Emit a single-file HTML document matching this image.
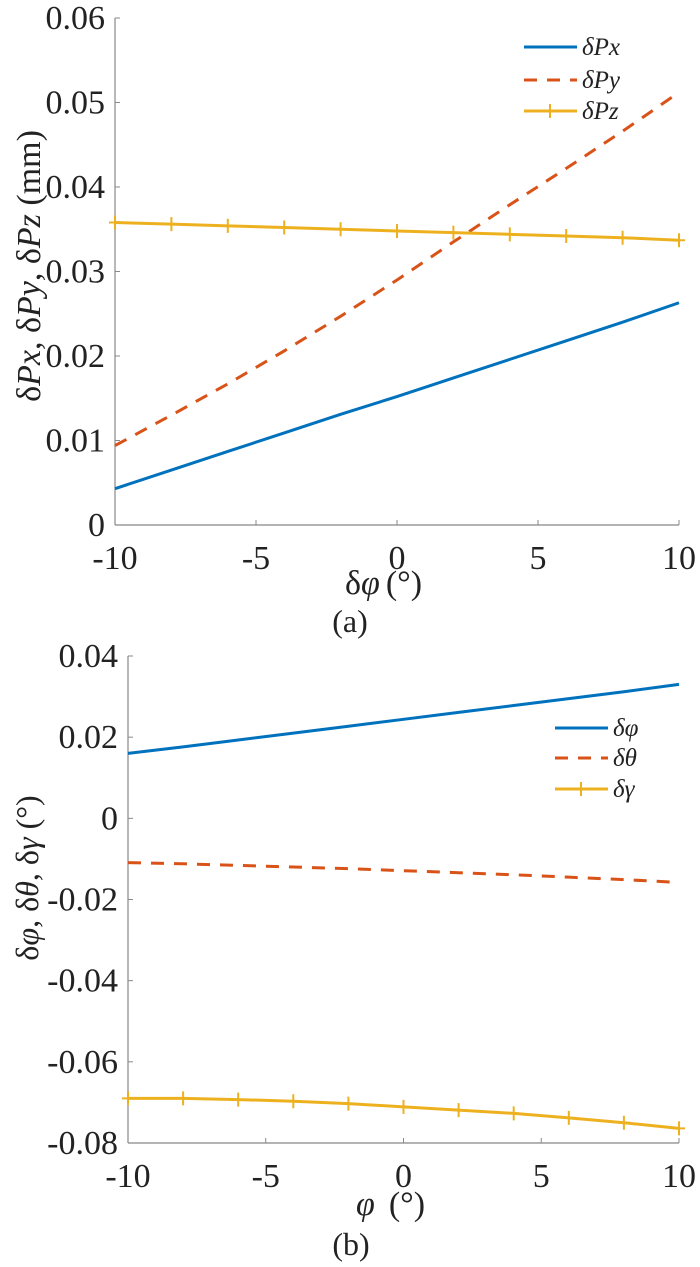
<!DOCTYPE html>
<html><head><meta charset="utf-8"><style>
body{margin:0;background:#fff}
svg{display:block}
svg text{font-family:"Liberation Serif","Noto Serif CJK SC","DejaVu Serif","Times New Roman",serif !important}
</style></head><body>
<svg id="fig" width="700" height="1267" viewBox="0 0 700 1267" xmlns="http://www.w3.org/2000/svg" style="position:absolute;left:0;top:0"></svg>
<script>
const xCats=[-10,-8,-6,-4,-2,0,2,4,6,8,10];
const pxVals=[0.0043,0.0065,0.0087,0.0109,0.0131,0.0152,0.0174,0.0196,0.0218,0.0240,0.0263];
const pyVals=[0.0094,0.0130,0.0167,0.0206,0.0247,0.0290,0.0335,0.0379,0.0422,0.0466,0.0512];
const pzVals=[0.0358,0.0356,0.0354,0.0352,0.0350,0.0348,0.0346,0.0344,0.0342,0.0340,0.0337];
const phiVals=[0.0160,0.0176,0.0193,0.0210,0.0227,0.0244,0.0261,0.0278,0.0295,0.0312,0.0330];
const thetaVals=[-0.0109,-0.0112,-0.0116,-0.0120,-0.0124,-0.0129,-0.0134,-0.0139,-0.0145,-0.0151,-0.0158];
const gammaVals=[-0.0690,-0.0690,-0.0693,-0.0697,-0.0703,-0.0711,-0.0719,-0.0727,-0.0738,-0.0750,-0.0764];
const xTicks=[-10,-5,0,5,10];
const xTickLabels=["-10","-5","0","5","10"];
const yTicksA=[0,0.01,0.02,0.03,0.04,0.05,0.06];
const yTickLabelsA=["0","0.01","0.02","0.03","0.04","0.05","0.06"];
const yTicksB=[-0.08,-0.06,-0.04,-0.02,0,0.02,0.04];
const yTickLabelsB=["-0.08","-0.06","-0.04","-0.02","0","0.02","0.04"];

const NS="http://www.w3.org/2000/svg";
const svg=document.getElementById('fig');
function mk(tag,attrs,parent,text){const e=document.createElementNS(NS,tag);for(const k in attrs)e.setAttribute(k,attrs[k]);if(text!==undefined)e.textContent=text;(parent||svg).appendChild(e);return e;}
const C={blue:"#0072BD",red:"#D95319",yel:"#EDB120"};

function panel(P){
  const g=mk('g',{});
  
  
  const sx=v=>P.x0+(v-(-10))/20*(P.x1-P.x0);
  const sy=v=>P.yb+(v-P.ymin)/(P.ymax-P.ymin)*(P.yt-P.yb);
  let a=mk('line',{x1:P.x0,y1:P.yt,x2:P.x0,y2:P.yb,stroke:"#888","stroke-width":1.2},g);
  
  a=mk('line',{x1:P.x0,y1:P.yb,x2:P.x1,y2:P.yb,stroke:"#888","stroke-width":1.2},g);
  
  P.yTicks.forEach((v,i)=>{
    mk('line',{x1:P.x0,y1:sy(v),x2:P.x0+5,y2:sy(v),stroke:"#888"},g);
    const t=mk('text',{x:P.x0-10,y:sy(v)+11,"text-anchor":"end","font-size":34,fill:"#222"},g,P.yLabels[i]);
    
  });
  xTicks.forEach((v,i)=>{
    mk('line',{x1:sx(v),y1:P.yb,x2:sx(v),y2:P.yb-5,stroke:"#888"},g);
    const t=mk('text',{x:sx(v),y:P.yb+44,"text-anchor":"middle","font-size":34,fill:"#222"},g,xTickLabels[i]);
    
  });
  P.series.forEach(s=>{
    const pts=xCats.map((x,i)=>sx(x)+","+sy(s.vals[i])).join(" ");
    const l=mk('polyline',{points:pts,fill:"none",stroke:s.color,"stroke-width":3,"stroke-dasharray":s.dash?"13,10":"none"},g);
    
    if(s.marker){xCats.forEach((x,i)=>{const cx=sx(x),cy=sy(s.vals[i]);
      const m=mk('path',{d:`M${cx-6},${cy}H${cx+6}M${cx},${cy-7}V${cy+7}`,stroke:s.color,"stroke-width":2},g);
      });}
  });
  P.series.forEach((s,i)=>{
    const y=P.legY[i],lx=P.legX;
    const le=mk('g',{},g);
    
    mk('line',{x1:lx,y1:y,x2:lx+53,y2:y,stroke:s.color,"stroke-width":3,"stroke-dasharray":s.dash?"13,10":"none"},le);
    if(s.marker)mk('path',{d:`M${lx+20},${y}H${lx+33}M${lx+26},${y-7}V${y+7}`,stroke:s.color,"stroke-width":2},le);
    mk('text',{x:lx+58,y:y+8,"font-size":25,"font-style":"italic",fill:"#222"},le,s.label);
  });
}
panel({name:'panel-a',x0:115,x1:679,yt:18,yb:525,ymin:0,ymax:0.06,yTicks:yTicksA,yLabels:yTickLabelsA,legX:524,legY:[47,80,111],
  series:[{id:'dpx',vals:pxVals,color:C.blue,label:'δPx'},{id:'dpy',vals:pyVals,color:C.red,dash:1,label:'δPy'},{id:'dpz',vals:pzVals,color:C.yel,marker:1,label:'δPz'}]});
panel({name:'panel-b',x0:128,x1:679,yt:656,yb:1143,ymin:-0.08,ymax:0.04,yTicks:yTicksB,yLabels:yTickLabelsB,legX:555,legY:[728,758,789],
  series:[{id:'dphi',vals:phiVals,color:C.blue,label:'δφ'},{id:'dtheta',vals:thetaVals,color:C.red,dash:1,label:'δθ'},{id:'dgamma',vals:gammaVals,color:C.yel,marker:1,label:'δγ'}]});
</script>
<svg style="position:absolute;left:0;top:0" width="700" height="1267" fill="#222">
<text transform="translate(40,266) rotate(-90)" text-anchor="middle" font-size="34">δ<tspan font-style="italic">Px</tspan>, δ<tspan font-style="italic">Py</tspan>, δ<tspan font-style="italic">Pz</tspan>  (mm)</text>
<text x="345" y="594" font-size="34">δ<tspan font-style="italic">φ</tspan><tspan dx="6">(°)</tspan></text>
<text x="350" y="632" text-anchor="middle" font-size="32">(a)</text>
<text transform="translate(38,878) rotate(-90)" text-anchor="middle" font-size="32">δ<tspan font-style="italic">φ</tspan>, δ<tspan font-style="italic">θ</tspan>, δ<tspan font-style="italic">γ</tspan>  (°)</text>
<text x="356" y="1215" font-size="34"><tspan font-style="italic">φ</tspan><tspan dx="14">(°)</tspan></text>
<text x="351" y="1255" text-anchor="middle" font-size="32">(b)</text>
</svg>
</body></html>
